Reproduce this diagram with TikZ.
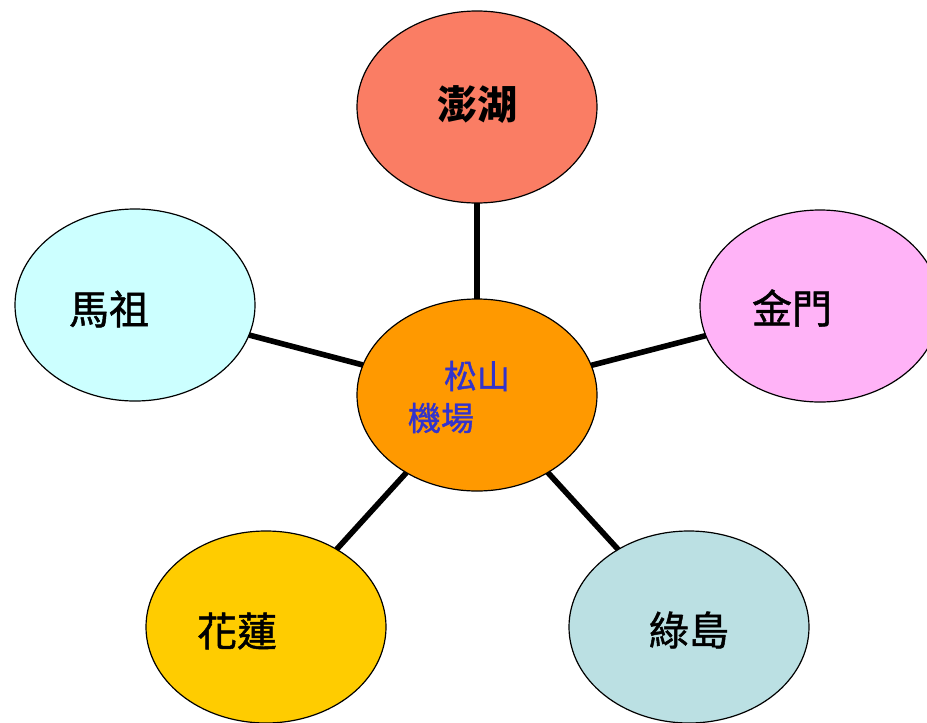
\documentclass[tikz,border=0pt]{standalone}
\usepackage{fontspec}
\newfontfamily\cjk{Noto Sans CJK TC}
\newfontfamily\cjkmed[FakeBold=1.2]{Noto Sans CJK TC}
\usetikzlibrary{shapes.geometric}
\definecolor{penghu}{HTML}{FA7D64}
\definecolor{kinmen}{HTML}{FFB3F7}
\definecolor{matsu}{HTML}{CCFFFF}
\definecolor{hualien}{HTML}{FFCC00}
\definecolor{lyudao}{HTML}{BBE0E3}
\definecolor{hub}{HTML}{FF9900}
\definecolor{hubtext}{HTML}{3333CC}
\tikzset{
  isle/.style={
    ellipse,
    minimum width=120pt,
    minimum height=96pt,
    inner sep=0mm,
    outer sep=0mm,
    line width=0.6pt,
  draw
  },
  islename/.style={
    font=\cjkmed\fontsize{20}{24}\selectfont
  },
  hubname/.style={
    font=\cjkmed\fontsize{16.5}{20}\selectfont,
    text=hubtext
  },
  link/.style={
    line width=2.8pt
  }
}

\begin{document}
\begin{tikzpicture}[x=0.5pt,y=-0.5pt]
    \useasboundingbox (0,0) rectangle (927,723);
    \node[isle,fill=hub] (ssa) at (477,395) {};
    \node[isle,fill=penghu] (ph) at (477,107) {};
    \node[isle,fill=kinmen] (km) at (820,306) {};
    \node[isle,fill=matsu] (mz) at (135,305) {};
    \node[isle,fill=hualien] (hl) at (266,627) {};
    \node[isle,fill=lyudao] (ld) at (689,627) {};
    \draw[link] (ssa) -- (ph);
    \draw[link] (ssa) -- (km);
    \draw[link] (ssa) -- (mz);
    \draw[link] (ssa) -- (hl);
    \draw[link] (ssa) -- (ld);
    \node[islename,font=\cjk\bfseries\fontsize{20}{24}\selectfont] (phname) at (477,105) {澎湖};
    \node[islename] (kmname) at (792,308) {金門};
    \node[islename] (mzname) at (109,309) {馬祖};
    \node[islename] (hlname) at (237,631) {花蓮};
    \node[islename] (ldname) at (689,630) {綠島};
    \node[hubname] (ssatop) at (477,376) {松山};
    \node[hubname] (ssabot) at (441,418) {機場};
\end{tikzpicture}
\end{document}
